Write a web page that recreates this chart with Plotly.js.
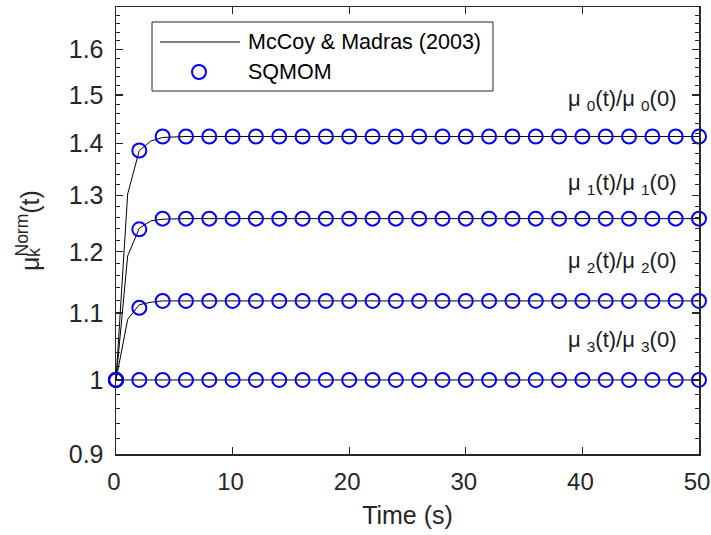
<!DOCTYPE html>
<html><head><meta charset="utf-8">
<script src="https://cdn.plot.ly/plotly-3.0.1.min.js"></script>
<style>html,body{margin:0;padding:0;background:#fff}#chart{width:711px;height:535px}</style>
</head><body><div id="chart"></div>
<script>
// ---- data ----
const lineTime = [0,1,2,3,4,5,6,8,10,12,14,16,18,20,22,24,26,28,30,32,34,36,38,40,42,44,46,48,50];
const mu0Line = [1,1.303,1.386,1.405,1.412,1.413,1.414,1.414,1.414,1.414,1.414,1.414,1.414,1.414,1.414,1.414,1.414,1.414,1.414,1.414,1.414,1.414,1.414,1.414,1.414,1.414,1.414,1.414,1.414];
const mu1Line = [1,1.193,1.241,1.254,1.257,1.258,1.258,1.258,1.258,1.258,1.258,1.258,1.258,1.258,1.258,1.258,1.258,1.258,1.258,1.258,1.258,1.258,1.258,1.258,1.258,1.258,1.258,1.258,1.258];
const mu2Line = [1,1.090,1.113,1.117,1.119,1.119,1.119,1.119,1.119,1.119,1.119,1.119,1.119,1.119,1.119,1.119,1.119,1.119,1.119,1.119,1.119,1.119,1.119,1.119,1.119,1.119,1.119,1.119,1.119];
const mu3Line = [1,1,1,1,1,1,1,1,1,1,1,1,1,1,1,1,1,1,1,1,1,1,1,1,1,1,1,1,1];

const markerTime = [0,2,4,6,8,10,12,14,16,18,20,22,24,26,28,30,32,34,36,38,40,42,44,46,48,50];
const mu0Markers = [1,1.386,1.414,1.414,1.414,1.414,1.414,1.414,1.414,1.414,1.414,1.414,1.414,1.414,1.414,1.414,1.414,1.414,1.414,1.414,1.414,1.414,1.414,1.414,1.414,1.414];
const mu1Markers = [1,1.239,1.258,1.258,1.258,1.258,1.258,1.258,1.258,1.258,1.258,1.258,1.258,1.258,1.258,1.258,1.258,1.258,1.258,1.258,1.258,1.258,1.258,1.258,1.258,1.258];
const mu2Markers = [1,1.108,1.119,1.119,1.119,1.119,1.119,1.119,1.119,1.119,1.119,1.119,1.119,1.119,1.119,1.119,1.119,1.119,1.119,1.119,1.119,1.119,1.119,1.119,1.119,1.119];
const mu3Markers = [1,1,1,1,1,1,1,1,1,1,1,1,1,1,1,1,1,1,1,1,1,1,1,1,1,1];

const seriesNames = ['McCoy &amp; Madras (2003)', 'SQMOM'];
const curveLabels = ['μ <sub>0</sub>(t)/μ <sub>0</sub>(0)',
                     'μ <sub>1</sub>(t)/μ <sub>1</sub>(0)',
                     'μ <sub>2</sub>(t)/μ <sub>2</sub>(0)',
                     'μ <sub>3</sub>(t)/μ <sub>3</sub>(0)'];
const xTickVals = [0,10,20,30,40,50];
const yTickVals = [0.9,1,1.1,1.2,1.3,1.4,1.5,1.6];
const yTickText = ['0.9','1','1.1','1.2','1.3','1.4','1.5','1.6'];
const yMinorVals = [0.92,0.94,0.96,0.98,1.02,1.04,1.06,1.08,1.12,1.14,1.16,1.18,1.22,1.24,1.26,1.28,1.32,1.34,1.36,1.38,1.42,1.44,1.46,1.48,1.52,1.54,1.56,1.58,1.62,1.64,1.66,1.68];

// ---- layout geometry ----
const W = 711, H = 535;
const M = {l:116, r:12, t:7, b:81};
const PW = W - M.l - M.r, PH = H - M.t - M.b;
const px = x => (x - M.l) / PW;          // pixel -> paper x
const py = y => (H - M.b - y) / PH;      // pixel -> paper y
const TXT = '#262626';
const FONT = 'Liberation Sans, Arial, Helvetica, sans-serif';

const lineSets = [mu0Line, mu1Line, mu2Line, mu3Line];
const markerSets = [mu0Markers, mu1Markers, mu2Markers, mu3Markers];
const traces = [];
lineSets.forEach((ys, i) => traces.push({
  x: lineTime, y: ys, type: 'scatter', mode: 'lines', name: seriesNames[0],
  line: {color: '#000000', width: 1}, showlegend: false, hoverinfo: 'skip'
}));
markerSets.forEach((ys, i) => traces.push({
  x: markerTime, y: ys, type: 'scatter', mode: 'markers', name: seriesNames[1],
  marker: {symbol: 'circle-open', size: 14, color: '#0000ff', line: {width: 2, color: '#0000ff'}},
  cliponaxis: false, showlegend: false
}));

const annotations = [];
const labelY = [97, 181, 259, 338];
curveLabels.forEach((t, i) => annotations.push({
  text: t, xref: 'paper', yref: 'paper', x: px(678), y: py(labelY[i] + 3),
  xanchor: 'right', yanchor: 'middle', showarrow: false,
  font: {family: FONT, size: 22, color: '#1a1a1a'}
}));
// legend texts
annotations.push({text: seriesNames[0], xref: 'paper', yref: 'paper', x: px(246), y: py(42),
  xanchor: 'left', yanchor: 'middle', showarrow: false, font: {family: FONT, size: 21.5, color: '#000'}});
annotations.push({text: seriesNames[1], xref: 'paper', yref: 'paper', x: px(246), y: py(72),
  xanchor: 'left', yanchor: 'middle', showarrow: false, font: {family: FONT, size: 21.5, color: '#000'}});
// stacked subscript k of the y-axis title
annotations.push({text: 'k', xref: 'paper', yref: 'paper', x: px(34), y: py(252),
  xanchor: 'center', yanchor: 'middle', textangle: -90, showarrow: false,
  font: {family: FONT, size: 18, color: TXT}});

const shapes = [
  {type: 'rect', xref: 'paper', yref: 'paper', x0: px(152), x1: px(493), y0: py(91), y1: py(22),
   line: {color: TXT, width: 1}, fillcolor: '#ffffff', layer: 'above'},
  {type: 'line', xref: 'paper', yref: 'paper', x0: px(160), x1: px(240), y0: py(42), y1: py(42),
   line: {color: '#000000', width: 1}, layer: 'above'},
  {type: 'circle', xref: 'paper', yref: 'paper', xsizemode: 'pixel', ysizemode: 'pixel',
   xanchor: px(199), yanchor: py(72), x0: -7, x1: 7, y0: -7, y1: 7,
   line: {color: '#0000ff', width: 2}, layer: 'above'}
];

const axisCommon = {
  showline: true, linecolor: TXT, linewidth: 1.5, mirror: 'allticks',
  ticks: 'inside', ticklen: 7, tickwidth: 1.2, tickcolor: TXT,
  showgrid: false, zeroline: false, ticklabeloverflow: 'allow',
  tickfont: {family: FONT, size: 25, color: TXT}
};

const layout = {
  width: W, height: H, margin: M, paper_bgcolor: '#fff', plot_bgcolor: '#fff',
  showlegend: false,
  xaxis: Object.assign({}, axisCommon, {
    range: [0, 50], tickmode: 'array', tickvals: xTickVals, ticklabelstandoff: 6, ticklabelshift: -2,
    tickfont: {family: FONT, size: 24, color: TXT},
    title: {text: 'Time (s)', font: {family: FONT, size: 25, color: TXT}, standoff: 12}
  }),
  yaxis: Object.assign({}, axisCommon, {
    type: 'log', range: [Math.log10(0.9), Math.log10(1.7)],
    tickmode: 'array', tickvals: yTickVals, ticktext: yTickText, ticklabelstandoff: 6,
    minor: {tickmode: 'array', tickvals: yMinorVals, ticks: 'inside', ticklen: 4, tickwidth: 1, tickcolor: TXT},
    title: {text: 'μ<sup>Norm</sup>(t)', font: {family: FONT, size: 25, color: TXT}, standoff: 22}
  }),
  shapes: shapes, annotations: annotations
};

Plotly.newPlot('chart', traces, layout, {staticPlot: true, displayModeBar: false});
</script></body></html>
